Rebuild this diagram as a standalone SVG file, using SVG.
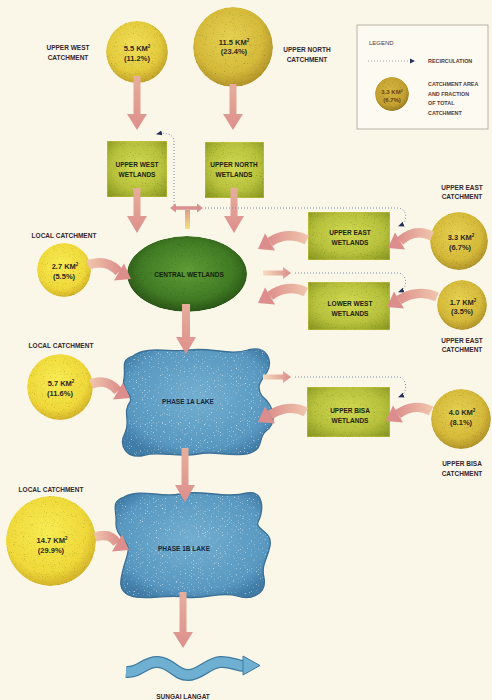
<svg xmlns="http://www.w3.org/2000/svg" width="492" height="700" viewBox="0 0 492 700">
<defs>
<style>
.lbl{font-family:"Liberation Sans",Arial,sans-serif;font-weight:bold;font-size:6.5px;fill:#35262e;text-anchor:middle}
.ct{font-family:"Liberation Sans",Arial,sans-serif;font-weight:bold;font-size:7.5px;fill:#2c2a20;text-anchor:middle}
.nt{font-family:"Liberation Sans",Arial,sans-serif;font-weight:bold;font-size:6.5px;fill:#1c2214;text-anchor:middle}
.lt{font-family:"Liberation Sans",Arial,sans-serif;font-weight:bold;font-size:6.5px;fill:#16263a;text-anchor:middle}
.lg{font-family:"Liberation Sans",Arial,sans-serif;font-weight:bold;font-size:5.4px;fill:#5a3838}
.sup{font-size:4.5px}
.rc{fill:none;stroke:#6f7fa8;stroke-width:0.9;stroke-dasharray:1 2;marker-end:url(#rh)}
.arw{fill:url(#arrV)}
.crvR{fill:none;stroke:url(#arrR);stroke-width:9.5}
.crvL{fill:none;stroke:url(#arrL);stroke-width:9.5}
.head{fill:#DD8E8C}
.wet{fill:url(#gWet);stroke:#d8cc40;stroke-width:0.8;filter:url(#grain)}
.lake{fill:url(#gLake);filter:url(#water)}
.lakeEdge{fill:none;stroke:#3b6f96;stroke-width:1.3}
</style>
<filter id="grain" x="0" y="0" width="100%" height="100%" color-interpolation-filters="sRGB">
<feTurbulence type="fractalNoise" baseFrequency="0.9" numOctaves="2" seed="4" result="n"/>
<feColorMatrix in="n" type="matrix" values="0.33 0.33 0.33 0 0 0.33 0.33 0.33 0 0 0.33 0.33 0.33 0 0 0 0 0 0 1" result="g"/>
<feComponentTransfer in="g" result="g2">
<feFuncR type="linear" slope="0.9" intercept="0.6"/>
<feFuncG type="linear" slope="0.9" intercept="0.6"/>
<feFuncB type="linear" slope="0.9" intercept="0.6"/>
</feComponentTransfer>
<feBlend in="SourceGraphic" in2="g2" mode="multiply" result="b"/>
<feComposite in="b" in2="SourceGraphic" operator="in"/>
</filter>
<filter id="water" x="0" y="0" width="100%" height="100%" color-interpolation-filters="sRGB">
<feTurbulence type="fractalNoise" baseFrequency="0.45 1" numOctaves="2" seed="7" result="n"/>
<feColorMatrix in="n" type="matrix" values="0 0 0 0 1 0 0 0 0 1 0 0 0 0 1 4 0 0 0 -2.5" result="sp"/>
<feComposite in="sp" in2="SourceGraphic" operator="in" result="sp2"/>
<feMerge><feMergeNode in="SourceGraphic"/><feMergeNode in="sp2"/></feMerge>
</filter>
<radialGradient id="gY" cx="45%" cy="40%" r="60%">
<stop offset="0" stop-color="#F2E05A"/><stop offset="0.7" stop-color="#E4CB3C"/><stop offset="1" stop-color="#C4A42A"/>
</radialGradient>
<radialGradient id="gGold" cx="45%" cy="40%" r="60%">
<stop offset="0" stop-color="#E6D252"/><stop offset="0.7" stop-color="#D6BA3A"/><stop offset="1" stop-color="#B3952A"/>
</radialGradient>
<radialGradient id="gBright" cx="45%" cy="40%" r="60%">
<stop offset="0" stop-color="#F8EC52"/><stop offset="0.75" stop-color="#F0D93A"/><stop offset="1" stop-color="#D4B42A"/>
</radialGradient>
<radialGradient id="gLeg" cx="45%" cy="40%" r="60%">
<stop offset="0" stop-color="#D6B640"/><stop offset="0.75" stop-color="#C3A030"/><stop offset="1" stop-color="#9A7A22"/>
</radialGradient>
<radialGradient id="gWet" cx="50%" cy="45%" r="70%">
<stop offset="0" stop-color="#D2DA52"/><stop offset="0.6" stop-color="#B8C23C"/><stop offset="1" stop-color="#8A9822"/>
</radialGradient>
<radialGradient id="gCen" cx="50%" cy="45%" r="55%">
<stop offset="0" stop-color="#609C36"/><stop offset="0.7" stop-color="#417C24"/><stop offset="1" stop-color="#2A5416"/>
</radialGradient>
<radialGradient id="gLake" cx="50%" cy="45%" r="60%">
<stop offset="0" stop-color="#72AED0"/><stop offset="0.8" stop-color="#5898C0"/><stop offset="1" stop-color="#407CA6"/>
</radialGradient>
<linearGradient id="arrV" x1="0" y1="0" x2="0" y2="1">
<stop offset="0" stop-color="#E6AE9C"/><stop offset="1" stop-color="#DD8F8C"/>
</linearGradient>
<linearGradient id="arrR" x1="0" y1="0" x2="1" y2="0">
<stop offset="0" stop-color="#F0C4AC"/><stop offset="1" stop-color="#DE928E"/>
</linearGradient>
<linearGradient id="arrL" x1="1" y1="0" x2="0" y2="0">
<stop offset="0" stop-color="#F0C4AC"/><stop offset="1" stop-color="#DE928E"/>
</linearGradient>
<linearGradient id="arrH" x1="0" y1="0" x2="1" y2="0">
<stop offset="0" stop-color="#F7DCBC"/><stop offset="1" stop-color="#D98C8C"/>
</linearGradient>
<linearGradient id="stem" x1="0" y1="0" x2="0" y2="1">
<stop offset="0" stop-color="#E09A90"/><stop offset="1" stop-color="#F3E07A"/>
</linearGradient>
<marker id="rh" viewBox="0 0 6 6" refX="5" refY="3" markerWidth="6" markerHeight="6" markerUnits="userSpaceOnUse" orient="auto">
<path d="M0 0.5 L6 3 L0 5.5 Z" fill="#26325e"/>
</marker>
<path id="lakeA" d="M133 356 C146 345 172 353 190 350 C210 347 230 356 248 350 C266 345 274 360 267 372 C262 380 255 386 262 396 C274 406 278 422 266 431 C258 437 264 449 250 453 C232 458 215 450 198 454 C180 458 160 451 145 455 C127 460 118 446 125 433 C131 422 122 412 130 402 C134 395 121 390 124 379 C126 367 120 360 133 356 Z"/>
<path id="lakeB" d="M124 497 C140 488 160 498 180 494 C200 489 225 499 247 493 C264 490 264 510 258 522 C255 530 273 531 270 546 C267 560 261 565 264 578 C267 593 252 601 237 596 C220 591 205 600 185 597 C165 594 145 601 131 596 C116 591 121 578 124 566 C127 556 129 552 128 548 C127 540 115 535 116 522 C117 510 110 502 124 497 Z"/>
</defs>

<rect width="492" height="700" fill="#FAF7E8"/>

<g id="legend">
<rect x="357" y="25" width="131" height="104" fill="#FCFAF1" stroke="#aaa398" stroke-width="0.8"/>
<text class="lg" x="369" y="45" style="font-weight:normal;font-size:6px">LEGEND</text>
<path d="M368 61 L410 61" fill="none" stroke="#b09aa0" stroke-width="0.9" stroke-dasharray="1 2"/>
<path d="M410 58.5 L415 61 L410 63.5 Z" fill="#26325e"/>
<text class="lg" x="428" y="63">RECIRCULATION</text>
<circle cx="392" cy="94" r="17" fill="url(#gLeg)" filter="url(#grain)"/>
<text x="392" y="94" style="font-family:'Liberation Sans',Arial,sans-serif;font-weight:bold;font-size:6px;fill:#6a3c18;text-anchor:middle">3.3 KM<tspan dy="-2.5" style="font-size:3.5px">2</tspan></text>
<text x="392" y="102" style="font-family:'Liberation Sans',Arial,sans-serif;font-weight:bold;font-size:6px;fill:#6a3c18;text-anchor:middle">(6.7%)</text>
<text class="lg" x="428" y="86">CATCHMENT AREA</text>
<text class="lg" x="428" y="96">AND FRACTION</text>
<text class="lg" x="428" y="105">OF TOTAL</text>
<text class="lg" x="428" y="115">CATCHMENT</text>
</g>

<g id="upper-west-catchment">
<circle cx="137" cy="52" r="31" fill="url(#gY)" filter="url(#grain)"/>
<text class="ct" x="137" y="50.5">5.5 KM<tspan class="sup" dy="-3">2</tspan></text>
<text class="ct" x="137" y="60.5">(11.2%)</text>
<text class="lbl" x="68" y="49.5">UPPER WEST</text>
<text class="lbl" x="68" y="59.5">CATCHMENT</text>
</g>

<g id="upper-north-catchment">
<circle cx="233" cy="47" r="40" fill="url(#gGold)" filter="url(#grain)"/>
<text class="ct" x="234" y="44.5">11.5 KM<tspan class="sup" dy="-3">2</tspan></text>
<text class="ct" x="234" y="54">(23.4%)</text>
<text class="lbl" x="307" y="51.5">UPPER NORTH</text>
<text class="lbl" x="307" y="61.5">CATCHMENT</text>
</g>

<g id="upper-west-wetlands">
<rect class="wet" x="107" y="141" width="60" height="56"/>
<text class="nt" x="137" y="166.5">UPPER WEST</text>
<text class="nt" x="137" y="176.5">WETLANDS</text>
</g>

<g id="upper-north-wetlands">
<rect class="wet" x="205" y="142" width="59" height="56"/>
<text class="nt" x="234" y="166.5">UPPER NORTH</text>
<text class="nt" x="234" y="176.5">WETLANDS</text>
</g>

<g id="upper-east-wetlands">
<rect class="wet" x="308" y="212" width="82" height="48"/>
<text class="nt" x="350" y="234.5">UPPER EAST</text>
<text class="nt" x="350" y="244.5">WETLANDS</text>
</g>

<g id="lower-west-wetlands">
<rect class="wet" x="308" y="282" width="82" height="48"/>
<text class="nt" x="350" y="305.5">LOWER WEST</text>
<text class="nt" x="350" y="315.5">WETLANDS</text>
</g>

<g id="upper-bisa-wetlands">
<rect class="wet" x="307" y="387" width="83" height="50"/>
<text class="nt" x="350" y="412.5">UPPER BISA</text>
<text class="nt" x="350" y="422.5">WETLANDS</text>
</g>

<g id="central-wetlands">
<ellipse cx="187" cy="274" rx="60" ry="38" fill="url(#gCen)" filter="url(#grain)"/>
<text class="nt" x="189" y="276.5" style="fill:#14200c">CENTRAL WETLANDS</text>
</g>

<g id="local-catchment-1">
<circle cx="64" cy="270" r="27" fill="url(#gBright)" filter="url(#grain)"/>
<text class="ct" x="65" y="268.5">2.7 KM<tspan class="sup" dy="-3">2</tspan></text>
<text class="ct" x="64" y="278.5">(5.5%)</text>
<text class="lbl" x="64" y="238">LOCAL CATCHMENT</text>
</g>

<g id="upper-east-catchment">
<circle cx="459" cy="241" r="29" fill="url(#gGold)" filter="url(#grain)"/>
<text class="ct" x="461" y="239.5">3.3 KM<tspan class="sup" dy="-3">2</tspan></text>
<text class="ct" x="460" y="249.5">(6.7%)</text>
<text class="lbl" x="462" y="189.5">UPPER EAST</text>
<text class="lbl" x="462" y="198.5">CATCHMENT</text>
</g>

<g id="upper-east-catchment-2">
<circle cx="462" cy="305" r="25" fill="url(#gGold)" filter="url(#grain)"/>
<text class="ct" x="463" y="304.5">1.7 KM<tspan class="sup" dy="-3">2</tspan></text>
<text class="ct" x="462" y="314">(3.5%)</text>
<text class="lbl" x="462" y="342.5">UPPER EAST</text>
<text class="lbl" x="462" y="351.5">CATCHMENT</text>
</g>

<g id="phase-1a-lake">
<use href="#lakeA" class="lake"/>
<use href="#lakeA" class="lakeEdge"/>
<text class="lt" x="188" y="403.5">PHASE 1A LAKE</text>
</g>

<g id="local-catchment-2">
<circle cx="60" cy="387" r="33" fill="url(#gBright)" filter="url(#grain)"/>
<text class="ct" x="61" y="385.5">5.7 KM<tspan class="sup" dy="-3">2</tspan></text>
<text class="ct" x="60" y="395.5">(11.6%)</text>
<text class="lbl" x="61" y="348">LOCAL CATCHMENT</text>
</g>

<g id="upper-bisa-catchment">
<circle cx="461" cy="419" r="30" fill="url(#gGold)" filter="url(#grain)"/>
<text class="ct" x="462" y="414.5">4.0 KM<tspan class="sup" dy="-3">2</tspan></text>
<text class="ct" x="461" y="424.5">(8.1%)</text>
<text class="lbl" x="462" y="465.5">UPPER BISA</text>
<text class="lbl" x="462" y="475.5">CATCHMENT</text>
</g>

<g id="phase-1b-lake">
<use href="#lakeB" class="lake"/>
<use href="#lakeB" class="lakeEdge"/>
<text class="lt" x="184" y="550.5">PHASE 1B LAKE</text>
</g>

<g id="local-catchment-3">
<circle cx="51" cy="541" r="45" fill="url(#gBright)" filter="url(#grain)"/>
<text class="ct" x="52" y="542.5">14.7 KM<tspan class="sup" dy="-3">2</tspan></text>
<text class="ct" x="51" y="552.5">(29.9%)</text>
<text class="lbl" x="51" y="492">LOCAL CATCHMENT</text>
</g>

<g id="sungai-langat">
<path d="M126 672 C140 673 145 661 158 662 C172 663 175 675 188 675 C200 675 208 663 220 662 C232 661 238 667 246 666" fill="none" stroke="#3f7aa2" stroke-width="12"/>
<path d="M126 672 C140 673 145 661 158 662 C172 663 175 675 188 675 C200 675 208 663 220 662 C232 661 238 667 246 666" fill="none" stroke="#6FB0D2" stroke-width="9.5"/>
<path d="M243 656 L260 665.5 L243 675 Z" fill="#6FB0D2" stroke="#3f7aa2" stroke-width="1"/>
<text class="lbl" x="183" y="699">SUNGAI LANGAT</text>
</g>

<g id="connectors">
<polygon class="arw" points="133.5,76 140.5,76 140.5,114 147,114 137,130 127,114 133.5,114"/>
<polygon class="arw" points="229.5,84 236.5,84 236.5,114 243,114 233,130 223,114 229.5,114"/>
<polygon class="arw" points="133.5,188 140.5,188 140.5,216 147,216 137,233 127,216 133.5,216"/>
<polygon class="arw" points="230.5,188 237.5,188 237.5,216 244,216 234,233 224,216 230.5,216"/>
<polygon class="arw" points="182,304 190,304 190,337 196,337 186,354 176,337 182,337"/>
<polygon class="arw" points="181.5,448 188.5,448 188.5,485 195,485 185,502 175,485 181.5,485"/>
<polygon class="arw" points="179.5,592 186.5,592 186.5,632 193,632 183,648 173,632 179.5,632"/>

<path class="rc" d="M205 208 L398 208 C407 208 409 222 399 226"/>
<path class="rc" d="M174 205 L174 142 C174 134 166 132 157 134"/>
<path class="rc" d="M295 273 L398 273 C407 273 409 288 399 292"/>
<path class="rc" d="M295 377 L398 377 C407 377 409 393 399 397"/>

<rect x="185" y="210" width="5" height="19" fill="url(#stem)"/>
<polygon points="170,208 176,203.5 176,206.3 197,206.3 197,203.5 203,208 197,212.5 197,209.7 176,209.7 176,212.5" fill="#D99090"/>

<polygon points="263,270.5 283,270.5 283,267 291,273 283,279 283,275.5 263,275.5" fill="url(#arrH)"/>
<polygon points="263,374.5 283,374.5 283,371 291,377 283,383 283,379.5 263,379.5" fill="url(#arrH)"/>

<path class="crvR" d="M88 265 C101 260 112 264 119 272"/>
<polygon class="head" points="124,263.4 131,279 114,280.6"/>
<path class="crvR" d="M91 384 C104 379 112 384 118 391"/>
<polygon class="head" points="123,382.4 130,398 113,399.6"/>
<path class="crvR" d="M95 537 C107 533 113 537 117 543"/>
<polygon class="head" points="122,534.4 129,550 112,551.6"/>

<path class="crvL" d="M432 236 C420 230 409 233 400 241"/>
<polygon class="head" points="395,232.4 388,248 405,249.6"/>
<path class="crvL" d="M307 240 C294 233 280 235 270 242"/>
<polygon class="head" points="265,233.4 258,249 275,250.6"/>
<path class="crvL" d="M437 297 C424 291 410 293 399 300"/>
<polygon class="head" points="394,291.4 387,307 404,308.6"/>
<path class="crvL" d="M306 292 C294 286 280 288 270 296"/>
<polygon class="head" points="265,287.4 258,303 275,304.6"/>
<path class="crvL" d="M431 411 C420 405 408 407 398 414"/>
<polygon class="head" points="393,405.4 386,421 403,422.6"/>
<path class="crvL" d="M306 412 C294 406 281 408 270 415"/>
<polygon class="head" points="265,406.4 258,422 275,423.6"/>
</g>
</svg>
